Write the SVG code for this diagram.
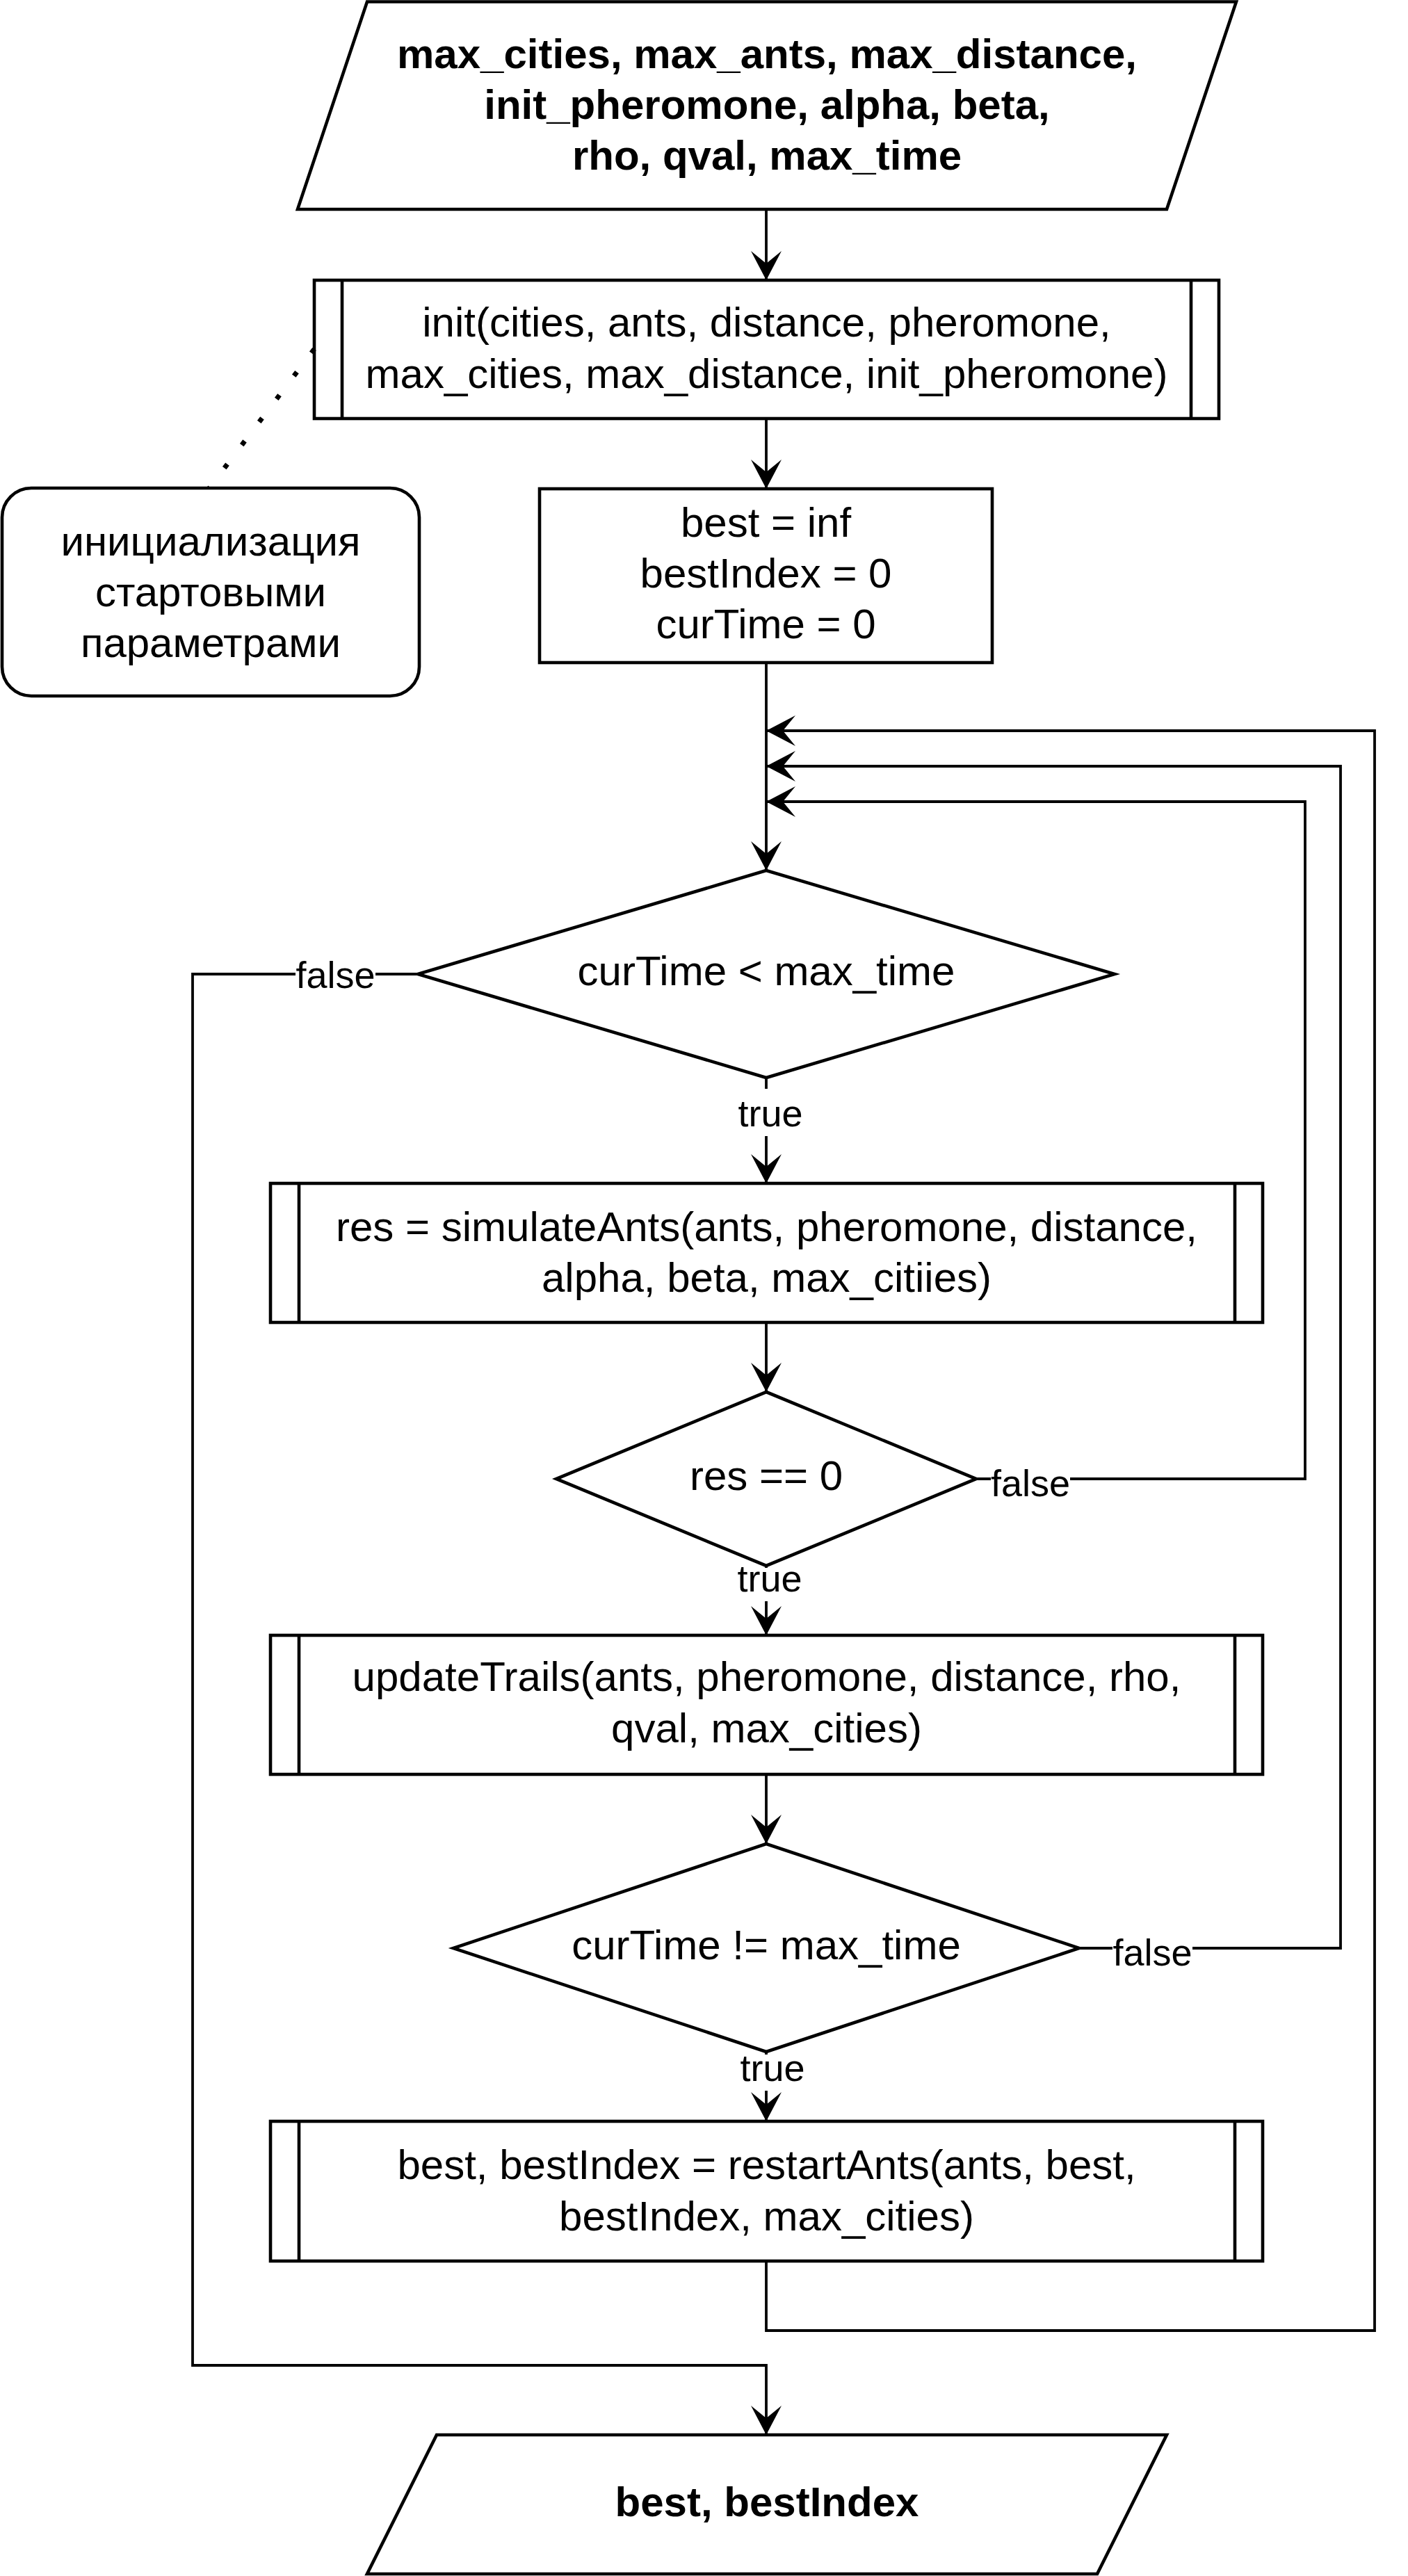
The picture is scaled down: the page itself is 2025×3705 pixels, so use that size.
<svg xmlns="http://www.w3.org/2000/svg" width="2025" height="3705" viewBox="0 0 2025 3705">
<style>
.s{fill:#fff;stroke:#000;stroke-width:4.6}
.in{fill:none;stroke:#000;stroke-width:4.6}
.e{fill:none;stroke:#000;stroke-width:3.8}
.d{fill:none;stroke:#000;stroke-width:7;stroke-dasharray:7 34.5}
.t{font-family:"Liberation Sans",Arial,sans-serif;font-size:60px;text-anchor:middle;fill:#000}
.b{font-weight:bold}
.l{font-size:54px}
.bg{fill:#fff;stroke:none}
</style>
<defs>
<marker id="arr" markerUnits="userSpaceOnUse" viewBox="-44 -24 48 48" refX="0" refY="0" markerWidth="48" markerHeight="48" orient="auto">
<path d="M0,0 L-42,-22 L-24,0 L-42,22 Z" fill="#000"/>
</marker>
</defs>
<rect width="2025" height="3705" fill="#fff"/>

<g id="input">
<polygon class="s" points="528,2.5 1778,2.5 1678,301 428,301"/>
<text class="t b" x="1103" y="98">max_cities, max_ants, max_distance,</text>
<text class="t b" x="1103" y="171">init_pheromone, alpha, beta,</text>
<text class="t b" x="1103" y="244">rho, qval, max_time</text>
</g>

<g id="init">
<rect class="s" x="452" y="403" width="1301" height="199"/>
<line class="in" x1="492" y1="403" x2="492" y2="602"/>
<line class="in" x1="1713" y1="403" x2="1713" y2="602"/>
<text class="t" x="1102.5" y="484">init(cities, ants, distance, pheromone,</text>
<text class="t" x="1102.5" y="558">max_cities, max_distance, init_pheromone)</text>
</g>

<g id="note">
<rect class="s" x="3" y="702" width="600" height="299" rx="42" ry="42"/>
<text class="t" x="303" y="799">инициализация</text>
<text class="t" x="303" y="872">стартовыми</text>
<text class="t" x="303" y="945">параметрами</text>
</g>

<g id="vars">
<rect class="s" x="776" y="703" width="651" height="250"/>
<text class="t" x="1101.5" y="772">best = inf</text>
<text class="t" x="1101.5" y="845">bestIndex = 0</text>
<text class="t" x="1101.5" y="918">curTime = 0</text>
</g>

<g id="cond1">
<polygon class="s" points="1102,1252 1603,1401 1102,1550 601,1401"/>
<text class="t" x="1102" y="1417">curTime &lt; max_time</text>
</g>

<g id="simulate">
<rect class="s" x="389" y="1702" width="1427" height="200"/>
<line class="in" x1="430" y1="1702" x2="430" y2="1902"/>
<line class="in" x1="1776" y1="1702" x2="1776" y2="1902"/>
<text class="t" x="1102.5" y="1785">res = simulateAnts(ants, pheromone, distance,</text>
<text class="t" x="1102.5" y="1858">alpha, beta, max_citiies)</text>
</g>

<g id="cond2">
<polygon class="s" points="1102,2002 1404,2127 1102,2252 800,2127"/>
<text class="t" x="1102" y="2143">res == 0</text>
</g>

<g id="update">
<rect class="s" x="389" y="2352" width="1427" height="200"/>
<line class="in" x1="430" y1="2352" x2="430" y2="2552"/>
<line class="in" x1="1776" y1="2352" x2="1776" y2="2552"/>
<text class="t" x="1102.5" y="2432">updateTrails(ants, pheromone, distance, rho,</text>
<text class="t" x="1102.5" y="2506">qval, max_cities)</text>
</g>

<g id="cond3">
<polygon class="s" points="1102,2652 1552,2802 1102,2951 652,2802"/>
<text class="t" x="1102" y="2818">curTime != max_time</text>
</g>

<g id="restart">
<rect class="s" x="389" y="3051" width="1427" height="201"/>
<line class="in" x1="430" y1="3051" x2="430" y2="3252"/>
<line class="in" x1="1776" y1="3051" x2="1776" y2="3252"/>
<text class="t" x="1102.5" y="3134">best, bestIndex = restartAnts(ants, best,</text>
<text class="t" x="1102.5" y="3208">bestIndex, max_cities)</text>
</g>

<g id="output">
<polygon class="s" points="628,3502 1678,3502 1578,3702 528,3702"/>
<text class="t b" x="1103" y="3619">best, bestIndex</text>
</g>

<g id="connectors">
<path class="e" d="M1102,301 V403" marker-end="url(#arr)"/>
<path class="e" d="M1102,602 V703" marker-end="url(#arr)"/>
<path class="e" d="M1102,953 V1252" marker-end="url(#arr)"/>
<path class="e" d="M1404,2127 H1877 V1153 H1102" marker-end="url(#arr)"/>
<path class="e" d="M1552,2802 H1928 V1102 H1102" marker-end="url(#arr)"/>
<path class="e" d="M1102,3252 V3352 H1977 V1051 H1102" marker-end="url(#arr)"/>
<path class="e" d="M1102,1550 V1702" marker-end="url(#arr)"/>
<path class="e" d="M1102,1902 V2002" marker-end="url(#arr)"/>
<path class="e" d="M1102,2252 V2352" marker-end="url(#arr)"/>
<path class="e" d="M1102,2552 V2652" marker-end="url(#arr)"/>
<path class="e" d="M1102,2951 V3051" marker-end="url(#arr)"/>
<path class="e" d="M601,1401 H277 V3402 H1102 V3502" marker-end="url(#arr)"/>
<path class="d" d="M452,502 L301,702"/>
<g id="labels">
<rect class="bg" x="425" y="1380" width="115" height="50"/>
<text class="t l" x="482.5" y="1421">false</text>
<rect class="bg" x="1061" y="1566" width="94" height="68"/>
<text class="t l" x="1108" y="1620">true</text>
<rect class="bg" x="1425" y="2110" width="114" height="52"/>
<text class="t l" x="1482" y="2152">false</text>
<rect class="bg" x="1060" y="2255" width="94" height="48"/>
<text class="t l" x="1107" y="2289">true</text>
<rect class="bg" x="1600" y="2785" width="115" height="52"/>
<text class="t l" x="1657.5" y="2827">false</text>
<rect class="bg" x="1064" y="2955" width="94" height="52"/>
<text class="t l" x="1111" y="2993">true</text>
</g>
</g>
</svg>
